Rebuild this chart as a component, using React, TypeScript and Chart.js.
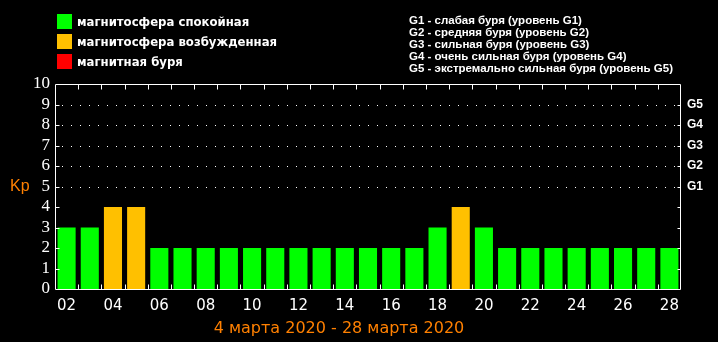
import React, { useEffect, useRef } from 'react';
import { Chart, registerables } from 'chart.js';

Chart.register(...registerables);

const days = ['02','03','04','05','06','07','08','09','10','11','12','13','14','15','16','17','18','19','20','21','22','23','24','25','26','27','28'];
const kpValues = [3,3,4,4,2,2,2,2,2,2,2,2,2,2,2,2,3,4,3,2,2,2,2,2,2,2,2];
const stormLevels = ['G1','G2','G3','G4','G5'];
const stormDescriptions = [
  'G1 - слабая буря (уровень G1)',
  'G2 - средняя буря (уровень G2)',
  'G3 - сильная буря (уровень G3)',
  'G4 - очень сильная буря (уровень G4)',
  'G5 - экстремально сильная буря (уровень G5)',
];
const legendLabels = ['магнитосфера спокойная', 'магнитосфера возбужденная', 'магнитная буря'];
const dateRange = '4 марта 2020 - 28 марта 2020';
const axisLabel = 'Kp';

const GREEN = '#00ff00';
const ORANGE = '#ffc000';
const RED = '#ff0000';
const TEXT_ORANGE = '#ff8000';
const legendColors = [GREEN, ORANGE, RED];

function barColor(v: number) {
  return v >= 5 ? RED : v >= 4 ? ORANGE : GREEN;
}

const framePlugin = {
  id: 'frame',
  beforeDatasetsDraw(chart: any) {
    const { ctx, chartArea: a, scales } = chart;
    const y = scales.y;
    ctx.save();
    ctx.strokeStyle = '#ffffff';
    ctx.lineWidth = 1;
    ctx.setLineDash([1, 8]);
    for (let v = 5; v <= 9; v++) {
      const py = Math.round(y.getPixelForValue(v)) + 0.5;
      ctx.beginPath();
      ctx.moveTo(a.left + 7, py);
      ctx.lineTo(a.right, py);
      ctx.stroke();
    }
    ctx.restore();
  },
  afterDatasetsDraw(chart: any) {
    const { ctx, chartArea: a, scales } = chart;
    const x = scales.x;
    const y = scales.y;
    ctx.save();
    ctx.strokeStyle = '#ffffff';
    ctx.lineWidth = 1;
    const L = Math.round(a.left) + 0.5;
    const R = Math.round(a.right) - 0.5;
    const T = Math.round(a.top) + 0.5;
    const B = Math.round(a.bottom) + 0.5;
    ctx.beginPath();
    ctx.rect(L, T, R - L, B - T);
    ctx.stroke();
    ctx.beginPath();
    for (let i = 1; i < days.length; i++) {
      const px = Math.round((x.getPixelForValue(i - 1) + x.getPixelForValue(i)) / 2) + 0.5;
      ctx.moveTo(px, T);
      ctx.lineTo(px, T + 5);
      ctx.moveTo(px, B);
      ctx.lineTo(px, B - 5);
    }
    for (let v = 1; v <= 9; v++) {
      const py = Math.round(y.getPixelForValue(v)) + 0.5;
      ctx.moveTo(L, py);
      ctx.lineTo(L + 4, py);
      ctx.moveTo(R, py);
      ctx.lineTo(R - 3, py);
    }
    ctx.stroke();
    ctx.restore();
  },
};

export default function App() {
  const canvasRef = useRef<HTMLCanvasElement | null>(null);

  useEffect(() => {
    document.body.style.margin = '0';
    document.body.style.background = '#000';
    const canvas = canvasRef.current;
    if (!canvas) return;
    const chart = new Chart(canvas, {
      type: 'bar',
      data: {
        labels: days,
        datasets: [
          {
            data: kpValues,
            backgroundColor: kpValues.map(barColor),
            borderWidth: 0,
            categoryPercentage: 1,
            barPercentage: 0.78,
          },
        ],
      },
      options: {
        animation: false,
        responsive: false,
        maintainAspectRatio: false,
        devicePixelRatio: 1,
        layout: { padding: { top: 84, left: 0, right: 0, bottom: 0 } },
        plugins: { legend: { display: false }, tooltip: { enabled: false }, title: { display: false } },
        scales: {
          x: {
            type: 'category',
            grid: { display: false, drawTicks: false },
            border: { display: false },
            ticks: {
              color: '#ffffff',
              font: { family: "'DejaVu Sans', sans-serif", size: 15 },
              autoSkip: false,
              maxRotation: 0,
              padding: 8,
              callback: (_v: any, i: number) => (i % 2 === 0 ? days[i] : ''),
            },
            afterFit: (s: any) => { s.height = 53; },
          },
          y: {
            position: 'left',
            min: 0,
            max: 10,
            grid: { display: false, drawTicks: false },
            border: { display: false },
            ticks: {
              stepSize: 1,
              autoSkip: false,
              color: '#ffffff',
              font: { family: '"Liberation Serif", "DejaVu Serif", serif', size: 17 },
              padding: 5,
            },
            afterFit: (s: any) => { s.width = 55; },
          },
          y2: {
            position: 'right',
            min: 0,
            max: 10,
            grid: { display: false, drawTicks: false },
            border: { display: false },
            ticks: {
              stepSize: 1,
              autoSkip: false,
              color: '#ffffff',
              font: { family: '"Liberation Sans", sans-serif', size: 12, weight: 'bold' },
              padding: 6,
              callback: (v: any) => (v >= 5 && v <= 9 ? stormLevels[v - 5] : ''),
            },
            afterFit: (s: any) => { s.width = 37; },
          },
        },
      },
      plugins: [framePlugin],
    } as any);
    return () => chart.destroy();
  }, []);

  const legendFont = "bold 13px 'DejaVu Sans Condensed', 'DejaVu Sans', sans-serif";

  return (
    <div style={{ position: 'relative', width: 718, height: 342, background: '#000', overflow: 'hidden' }}>
      <canvas ref={canvasRef} width={718} height={342} style={{ position: 'absolute', left: 0, top: 0, width: 718, height: 342 }} />
      {legendLabels.map((label, i) => (
        <div key={label} style={{ position: 'absolute', left: 57, top: 14 + i * 20, height: 15, display: 'flex', alignItems: 'center', whiteSpace: 'nowrap' }}>
          <div style={{ width: 15, height: 15, background: legendColors[i], marginRight: 5 }} />
          <span style={{ color: '#fff', font: legendFont, lineHeight: '15px' }}>{label}</span>
        </div>
      ))}
      <div style={{ position: 'absolute', left: 409, top: 14, color: '#fff', font: "bold 11.5px 'Liberation Sans', sans-serif", lineHeight: '12px', whiteSpace: 'nowrap' }}>
        {stormDescriptions.map((d) => (
          <div key={d}>{d}</div>
        ))}
      </div>
      <div style={{ position: 'absolute', left: 10, top: 176, color: TEXT_ORANGE, font: "16px 'Liberation Sans', sans-serif", lineHeight: '20px' }}>{axisLabel}</div>
      <div style={{ position: 'absolute', left: 339, top: 318, transform: 'translateX(-50%)', color: TEXT_ORANGE, font: "16px 'DejaVu Sans', sans-serif", lineHeight: '20px', whiteSpace: 'nowrap' }}>{dateRange}</div>
    </div>
  );
}
